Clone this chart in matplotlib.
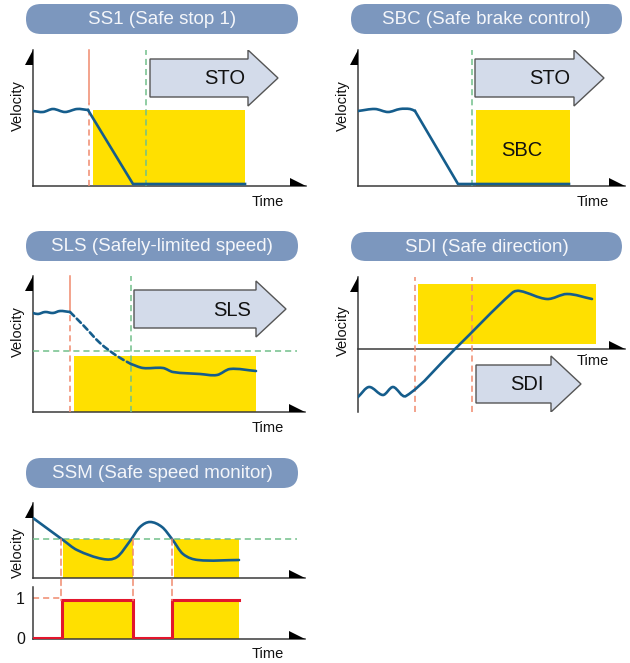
import numpy as np
import matplotlib
matplotlib.use('Agg')
import matplotlib.pyplot as plt
from matplotlib.path import Path
from matplotlib.patches import PathPatch, Polygon, Rectangle, FancyBboxPatch, FancyArrow, ConnectionPatch
from matplotlib.transforms import IdentityTransform

plt.rcParams['font.family'] = ['Liberation Sans', 'DejaVu Sans']

# colours
BLUE = '#155d8c'
YELLOW = '#ffe000'
RED_DASH = '#f08a6e'
GREEN_DASH = '#72c08a'
STEP_RED = '#e3162c'
PILL = '#7c97be'
ARROW_FILL = '#d3dbea'
AXIS = '#3a3a3a'

# ---- data (time / velocity in drawing units) ----
titles = ['SS1 (Safe stop 1)', 'SBC (Safe brake control)', 'SLS (Safely-limited speed)',
          'SDI (Safe direction)', 'SSM (Safe speed monitor)']

# SS1
ss1_run_t = [0, 10, 20, 32, 44, 55]
ss1_run_v = [75, 74, 77, 74, 77, 76]
ss1_stop_t = [55, 100, 212]
ss1_stop_v = [76, 2, 2]
ss1_request = 56
ss1_sto = 113
ss1_active = (60, 212, 1, 76)

# SBC
sbc_run_t = [0, 17, 30, 42, 52, 57]
sbc_run_v = [75, 77, 74, 77, 77, 75]
sbc_stop_t = [57, 100, 211]
sbc_stop_v = [75, 2, 2]
sbc_sto = 114
sbc_active = (118, 212, 0, 76)

# SLS
sls_run_t = [0, 5, 12, 20, 27, 37]
sls_run_v = [99, 98, 100, 99, 101, 100]
sls_ramp_t = [37, 50, 67, 84, 98]
sls_ramp_v = [100, 87, 69, 56, 48]
sls_hold_t = [98, 110, 130, 140, 167, 184, 197, 223]
sls_hold_v = [48, 44, 44, 40, 38, 37, 43, 41]
sls_request = 37
sls_limit_t = 98
sls_limit_v = 61
sls_active = (41, 223, 0, 56)

# SDI
sdi_t = [0, 11, 25, 35, 48, 97, 154, 162, 189, 209, 234]
sdi_v = [-48, -38, -46, -38, -47, 0, 56, 58, 50, 55, 50]
sdi_marks = [57, 114]
sdi_active = (60, 238, 5, 65)

# SSM
ssm_t = [0, 30, 44, 70, 84, 97, 107, 117, 129, 139, 150, 165, 206]
ssm_v = [60, 38, 28, 19, 21, 37, 51, 56, 51, 39, 24, 18, 18]
ssm_limit = 39
ssm_windows = [(30, 100), (141, 206)]
ssm_switch = [28, 100, 139]
ssm_state_t = [0, 29, 29, 100, 100, 139, 139, 206]
ssm_state = [0, 0, 1, 1, 0, 0, 1, 1]

W, H = 630, 663
fig = plt.figure(figsize=(W / 100, H / 100), dpi=100)
bg = fig.add_axes([0, 0, 1, 1])
bg.set_xlim(0, W)
bg.set_ylim(H, 0)
bg.axis('off')


def smooth_path(t, v):
    # cubic hermite in t, drawn as bezier segments
    t = np.asarray(t, float)
    v = np.asarray(v, float)
    n = len(t)
    m = np.zeros(n)
    m[0] = (v[1] - v[0]) / (t[1] - t[0])
    m[-1] = (v[-1] - v[-2]) / (t[-1] - t[-2])
    for i in range(1, n - 1):
        m[i] = (v[i + 1] - v[i - 1]) / (t[i + 1] - t[i - 1])
    verts, codes = [(t[0], v[0])], [Path.MOVETO]
    for i in range(n - 1):
        h = (t[i + 1] - t[i]) / 3
        verts += [(t[i] + h, v[i] + m[i] * h), (t[i + 1] - h, v[i + 1] - m[i + 1] * h), (t[i + 1], v[i + 1])]
        codes += [Path.CURVE4] * 3
    return Path(verts, codes)


def curve(ax, t, v, ls='-'):
    ax.add_patch(PathPatch(smooth_path(t, v), fill=False, ec=BLUE, lw=1.9, ls=ls,
                           capstyle='round', zorder=4))


def panel(x0, x1, ytop, ybot, vlim=None, yarrow=True, xaxis_v=None):
    ax = fig.add_axes([x0 / W, 1 - ybot / H, (x1 - x0) / W, (ybot - ytop) / H])
    ax.set_xlim(0, x1 - x0)
    ax.set_ylim(vlim if vlim else (0, ybot - ytop))
    ax.patch.set_visible(False)
    ax.spines[['top', 'right']].set_visible(False)
    for s in ['left', 'bottom']:
        ax.spines[s].set_color(AXIS)
        ax.spines[s].set_linewidth(1.1)
    if xaxis_v is not None:
        ax.spines['bottom'].set_position(('data', xaxis_v))
    ax.set_xticks([])
    ax.set_yticks([])
    va = ax.get_ylim()[0] if xaxis_v is None else xaxis_v
    tx, ty = ax.transData.transform((ax.get_xlim()[1], va))
    fig.add_artist(Polygon([[tx, ty], [tx - 16, ty], [tx - 16, ty + 8]], closed=True,
                           fc='black', ec='none', transform=IdentityTransform()))
    if yarrow:
        tx, ty = ax.transAxes.transform((0, 1))
        fig.add_artist(Polygon([[tx, ty], [tx, ty - 15], [tx - 8, ty - 15]], closed=True,
                               fc='black', ec='none', transform=IdentityTransform()))
    return ax


def labels(ax, vel_v=None, time_v=None, time_off=-16):
    if vel_v is not None:
        ax.annotate('Velocity', xy=(0, vel_v), xytext=(-15, 0), textcoords='offset pixels',
                    rotation=90, ha='center', va='center', fontsize=10.5, color='#111111')
    if time_v is not None:
        ax.annotate('Time', xy=(235, time_v), xytext=(0, time_off), textcoords='offset pixels',
                    ha='center', va='center', fontsize=10.5, color='#111111')


def window(ax, w):
    ax.add_patch(Rectangle((w[0], w[2]), w[1] - w[0], w[3] - w[2], fc=YELLOW, ec='none', zorder=1))


def vline(ax, t, v0, v1, color, ls=(0, (4, 2.6))):
    ax.plot([t, t], [v0, v1], color=color, lw=1.1, ls=ls, zorder=3, clip_on=False)


def big_arrow(ax, t0, t1, vc, text, tx):
    ax.add_patch(FancyArrow(t0, vc, t1 - t0, 0, width=38, head_width=56, head_length=30,
                            length_includes_head=True, fc=ARROW_FILL, ec='#555555', lw=1.0, zorder=5))
    ax.text(tx, vc - 1, text, fontsize=14.5, ha='center', va='center', color='#111111', zorder=6)


def pill(x0, x1, y0, y1, text):
    bg.add_patch(FancyBboxPatch((x0, y0), x1 - x0, y1 - y0,
                                boxstyle='round,pad=0,rounding_size=15', fc=PILL, ec='none'))
    bg.text((x0 + x1) / 2, (y0 + y1) / 2 + 0.5, text, fontsize=13.5, color='#f4f6fa',
            ha='center', va='center')


pill(26, 298, 4, 34, titles[0])
pill(351, 622, 4, 34, titles[1])
pill(26, 298, 231, 261, titles[2])
pill(351, 622, 232, 261, titles[3])
pill(26, 298, 458, 488, titles[4])

# ---- SS1 ----
ax = panel(33, 306, 50, 186)
window(ax, ss1_active)
vline(ax, ss1_request, 83, 136, RED_DASH, ls='-')
vline(ax, ss1_request, 0, 83, RED_DASH)
vline(ax, ss1_sto, 0, 136, GREEN_DASH)
curve(ax, ss1_run_t, ss1_run_v)
ax.plot(ss1_stop_t, ss1_stop_v, color=BLUE, lw=1.9, zorder=4, solid_joinstyle='round')
big_arrow(ax, 117, 245, 108, 'STO', 192)
labels(ax, 80, 0)

# ---- SBC ----
ax = panel(358, 625, 50, 186)
window(ax, sbc_active)
vline(ax, sbc_sto, 0, 136, GREEN_DASH)
curve(ax, sbc_run_t, sbc_run_v)
ax.plot(sbc_stop_t, sbc_stop_v, color=BLUE, lw=1.9, zorder=4, solid_joinstyle='round')
big_arrow(ax, 117, 246, 108, 'STO', 192)
ax.text(164, 36, 'SBC', fontsize=14.5, ha='center', va='center', color='#111111', zorder=6)
labels(ax, 80, 0)

# ---- SLS ----
ax = panel(33, 305, 276, 412)
window(ax, sls_active)
vline(ax, sls_request, 100, 136, RED_DASH, ls='-')
vline(ax, sls_request, 0, 100, RED_DASH)
vline(ax, sls_limit_t, 0, 136, GREEN_DASH)
ax.plot([0, 264], [sls_limit_v] * 2, color=GREEN_DASH, lw=1.1, ls=(0, (4, 2.6)), zorder=3)
curve(ax, sls_run_t, sls_run_v)
curve(ax, sls_ramp_t, sls_ramp_v, ls=(0, (2.2, 1.4)))
curve(ax, sls_hold_t, sls_hold_v)
big_arrow(ax, 101, 253, 103, 'SLS', 199)
labels(ax, 80, 0)

# ---- SDI ----
ax = panel(358, 625, 277, 412, vlim=(-63, 72), xaxis_v=0)
window(ax, sdi_active)
for t in sdi_marks:
    vline(ax, t, -63, 72, RED_DASH)
curve(ax, sdi_t, sdi_v)
big_arrow(ax, 118, 223, -35, 'SDI', 169)
labels(ax, 18, 0, time_off=-12)

# ---- SSM ----
top = panel(33, 305, 503, 578)
bot = panel(33, 305, 587, 639, vlim=(-0.027, 1.36), yarrow=False)
for w in ssm_windows:
    window(top, (w[0], w[1], 0, ssm_limit))
    window(bot, (w[0], w[1], -0.027, 0.97))
top.plot([0, 264], [ssm_limit] * 2, color=GREEN_DASH, lw=1.1, ls=(0, (4, 2.6)), zorder=3)
curve(top, ssm_t, ssm_v)
for t in ssm_switch:
    fig.add_artist(ConnectionPatch((t, ssm_limit), (t, 1), coordsA=top.transData, coordsB=bot.transData,
                                   color=RED_DASH, lw=1.1, ls=(0, (4, 2.6)), zorder=3))
bot.plot([0, 28], [1.06, 1.06], color=RED_DASH, lw=1.1, ls=(0, (4, 2.6)))
bot.plot(ssm_state_t, ssm_state, color=STEP_RED, lw=2.2, zorder=4, solid_joinstyle='miter')
bot.text(-13, 1.02, '1', fontsize=11.5, ha='center', va='center', color='#111111')
bot.text(-12, -0.05, '0', fontsize=11.5, ha='center', va='center', color='#111111')
labels(top, vel_v=25)
labels(bot, time_v=-0.027, time_off=-15)

fig.savefig('out.png', dpi=100)
